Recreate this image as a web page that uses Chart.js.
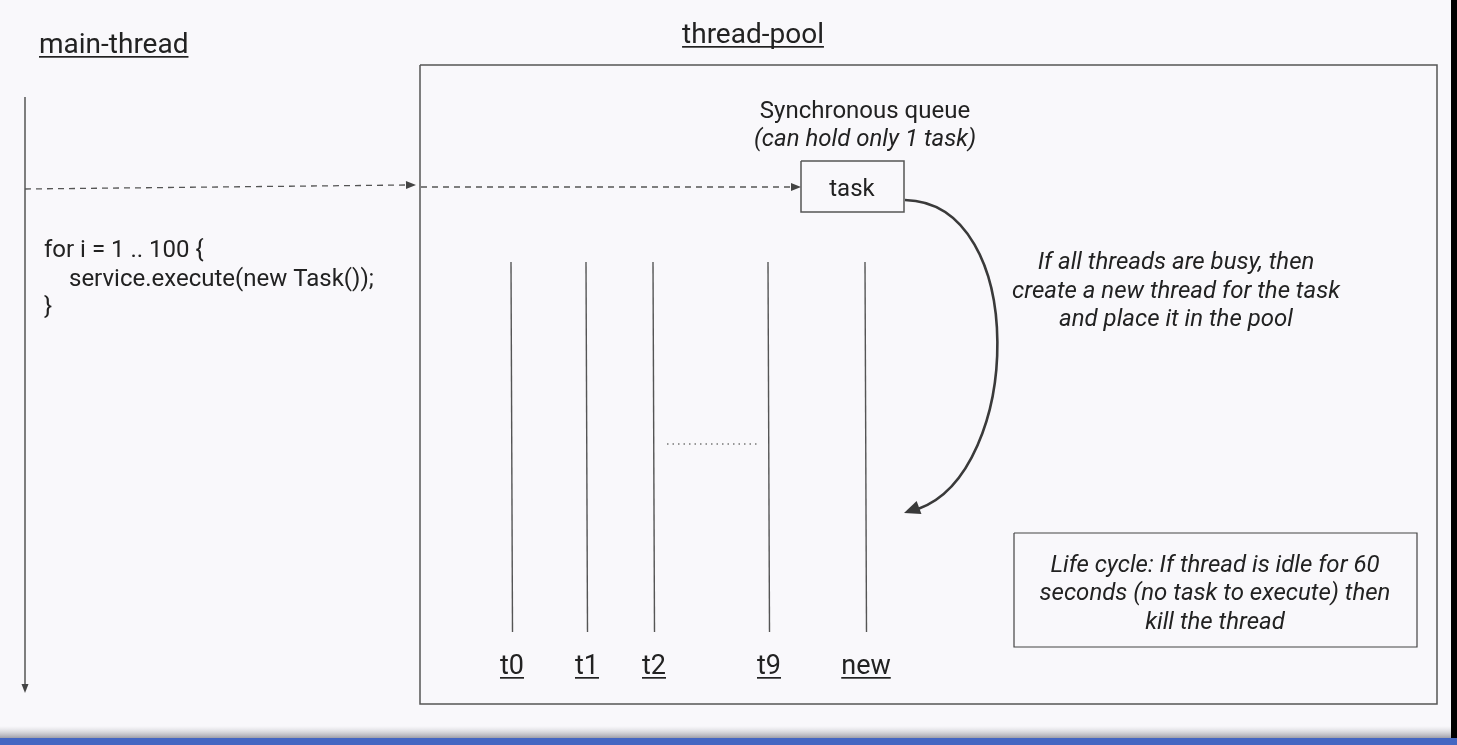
<!DOCTYPE html>
<html>
<head>
<meta charset="utf-8">
<script src="https://cdn.jsdelivr.net/npm/chart.js@4/dist/chart.umd.min.js"></script>
<style>
html,body{margin:0;padding:0;background:#f9f8fb;overflow:hidden;}
#wrap{position:absolute;left:0;top:0;width:1457px;height:745px;}
</style>
</head>
<body>
<div id="wrap"><canvas id="c" width="1457" height="745"></canvas></div>
<script>
// ---- content (text) ----
const threadLabels = ['t0', 't1', 't2', 't9', 'new'];
const codeLines = ['for i = 1 .. 100 {', 'service.execute(new Task());', '}'];
const queueTitle = ['Synchronous queue', '(can hold only 1 task)'];
const noteLines = ['If all threads are busy, then', 'create a new thread for the task', 'and place it in the pool'];
const lifeLines = ['Life cycle: If thread is idle for 60', 'seconds (no task to execute) then', 'kill the thread'];
const headers = ['main-thread', 'thread-pool', 'task'];

// ---- layout (diagram units on a 1457 x 745 grid) ----
const L = {
  threadX: [511, 586, 653, 768, 865], threadTop: 262, threadBottom: 632, threadLabelY: 674,
  mainX: 25, mainTop: 97, mainBottom: 693,
  pool: {x0: 420, y0: 65, x1: 1437, y1: 704},
  task: {x0: 801, y0: 161, x1: 904, y1: 212},
  life: {x0: 1014, y0: 533, x1: 1417, y1: 647}
};

const ink = '#4a4a4a';
function seg(pts, opts) {
  return Object.assign({data: pts.map(p => ({x: p[0], y: p[1]})), showLine: true, pointRadius: 0,
    borderColor: ink, borderWidth: 1.5, fill: false, tension: 0}, opts || {});
}
function rect(r, opts) {
  return seg([[r.x0, r.y0], [r.x1, r.y0], [r.x1, r.y1], [r.x0, r.y1], [r.x0, r.y0]], opts);
}

const datasets = [];
datasets.push(rect(L.pool, {borderColor: '#555', borderWidth: 1.5}));
datasets.push(rect(L.task, {borderColor: '#555', borderWidth: 1.5}));
datasets.push(rect(L.life, {borderColor: '#444', borderWidth: 1.2}));
datasets.push(seg([[L.mainX, L.mainTop], [L.mainX, L.mainBottom - 6]], {borderColor: '#555', borderWidth: 1.5}));
L.threadX.forEach(x => datasets.push(seg([[x, L.threadTop], [x + 1.5, L.threadBottom]], {borderColor: '#555', borderWidth: 1.4})));
datasets.push(seg([[L.mainX, 189], [407, 185]], {borderDash: [6, 5], borderColor: '#555', borderWidth: 1.3}));
datasets.push(seg([[421, 187], [792, 187]], {borderDash: [6, 5], borderColor: '#555', borderWidth: 1.3}));
datasets.push(seg([[667, 444], [760, 444]], {borderDash: [1.5, 4], borderColor: '#777', borderWidth: 1.3}));

const FONT = 'Roboto, "Noto Sans", sans-serif';
const textColor = '#222';

const diagramPlugin = {
  id: 'diagram',
  beforeDraw(chart) {
    const ctx = chart.ctx;
    ctx.save();
    ctx.fillStyle = '#f9f8fb';
    ctx.fillRect(0, 0, chart.width, chart.height);
    ctx.restore();
  },
  afterDatasetsDraw(chart) {
    const ctx = chart.ctx, xs = chart.scales.x, ys = chart.scales.y;
    const X = v => xs.getPixelForValue(v), Y = v => ys.getPixelForValue(v);
    ctx.save();
    function tri(tip, dir, len, w) {
      const [dx, dy] = dir; const n = Math.hypot(dx, dy); const ux = dx / n, uy = dy / n;
      const bx = X(tip[0]) - ux * len, by = Y(tip[1]) - uy * len;
      ctx.beginPath();
      ctx.moveTo(X(tip[0]), Y(tip[1]));
      ctx.lineTo(bx - uy * w, by + ux * w);
      ctx.lineTo(bx + uy * w, by - ux * w);
      ctx.closePath(); ctx.fill();
    }
    ctx.fillStyle = '#444';
    tri([L.mainX, L.mainBottom], [0, 1], 9, 3.5);
    tri([416, 185], [1, -0.01], 10, 4);
    tri([801, 187], [1, 0], 10, 4);
    // curved arrow
    const p0 = [905, 200], c1 = [1030, 203], c2 = [1022, 472], p3 = [918, 509];
    ctx.strokeStyle = '#3a3a3a'; ctx.lineWidth = 2.6;
    ctx.beginPath();
    ctx.moveTo(X(p0[0]), Y(p0[1]));
    ctx.bezierCurveTo(X(c1[0]), Y(c1[1]), X(c2[0]), Y(c2[1]), X(p3[0]), Y(p3[1]));
    ctx.stroke();
    ctx.fillStyle = '#3a3a3a';
    tri([904, 513], [p3[0] - c2[0] + 30, p3[1] - c2[1] - 10], 16, 7);

    // text
    ctx.fillStyle = textColor;
    ctx.textBaseline = 'alphabetic';
    function txt(s, x, y, size, align, italic, underline) {
      ctx.font = (italic ? 'italic ' : '') + '400 ' + size + 'px ' + FONT;
      ctx.textAlign = align;
      ctx.fillText(s, X(x), Y(y));
      if (underline) {
        const w = ctx.measureText(s).width;
        let sx = X(x);
        if (align === 'center') sx -= w / 2; else if (align === 'right') sx -= w;
        ctx.fillRect(sx, Y(y) + 3, w, 1.7);
      }
    }
    txt(headers[0], 39, 53, 28, 'left', false, true);
    txt(headers[1], 753, 43, 28, 'center', false, true);
    txt(headers[2], 852, 196, 24, 'center');
    txt(queueTitle[0], 865, 118, 24, 'center');
    txt(queueTitle[1], 865, 146, 24, 'center', true);
    const codeY = [257, 286, 314], codeX = [44, 69, 44];
    codeLines.forEach((s, i) => txt(s, codeX[i], codeY[i], 24, 'left'));
    const noteY = [269, 298, 326];
    noteLines.forEach((s, i) => txt(s, 1176, noteY[i], 24, 'center', true));
    const lifeY = [572, 600, 629];
    lifeLines.forEach((s, i) => txt(s, 1215, lifeY[i], 24, 'center', true));
    threadLabels.forEach((s, i) => txt(s, L.threadX[i] + 1, L.threadLabelY, 27, 'center', false, true));

    // bottom bar + right edge
    const g = ctx.createLinearGradient(0, Y(726), 0, Y(738));
    g.addColorStop(0, 'rgba(200,200,205,0)');
    g.addColorStop(1, 'rgba(150,150,160,0.9)');
    ctx.fillStyle = g;
    ctx.fillRect(X(0), Y(726), X(1451) - X(0), Y(738) - Y(726));
    ctx.fillStyle = '#4466c2';
    ctx.fillRect(X(0), Y(738), X(1457) - X(0), Y(745) - Y(738));
    ctx.fillStyle = '#000';
    ctx.fillRect(X(1451), Y(0), X(1457) - X(1451), Y(738) - Y(0));
    ctx.restore();
  }
};

new Chart(document.getElementById('c'), {
  type: 'scatter',
  data: {datasets},
  options: {
    responsive: false, animation: false, devicePixelRatio: 1,
    layout: {padding: 0},
    plugins: {legend: {display: false}, tooltip: {enabled: false}},
    scales: {
      x: {type: 'linear', min: 0, max: 1457, display: false},
      y: {type: 'linear', min: 0, max: 745, reverse: true, display: false}
    }
  },
  plugins: [diagramPlugin]
});
</script>
</body>
</html>
